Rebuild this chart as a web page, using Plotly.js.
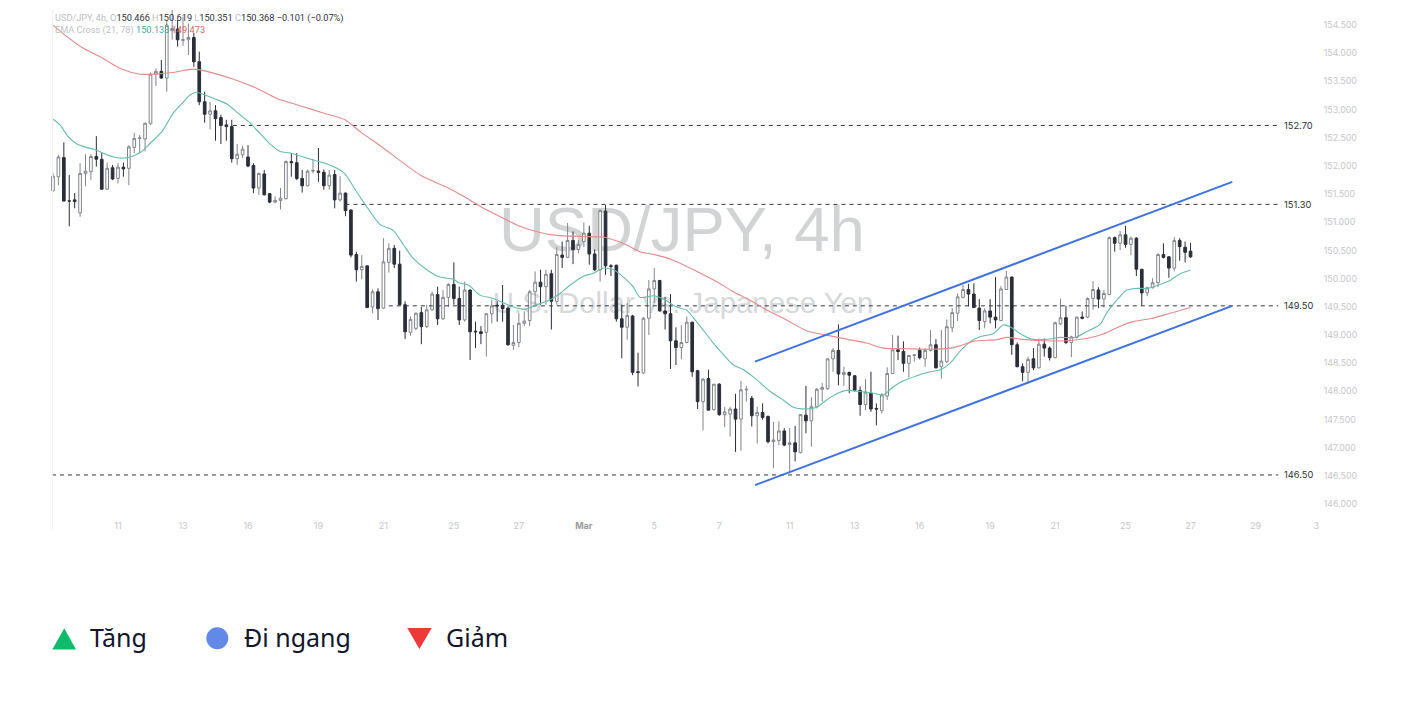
<!DOCTYPE html>
<html>
<head>
<meta charset="utf-8">
<title>USD/JPY 4h</title>
<script src="https://cdn.plot.ly/plotly-3.0.1.min.js"></script>
<style>
  html, body { margin: 0; padding: 0; background: #fff; }
  #chart { width: 1406px; height: 722px; }
</style>
</head>
<body>
<div id="chart"></div>
<script>
// USD/JPY 4h bars
const opens = [
  151.54,151.79,152.13,151.36,151.38,151.15,151.85,151.88,152.15,152.10,
  151.57,151.95,151.76,151.96,151.94,152.31,152.47,152.46,152.73,153.61,
  153.66,153.54,154.38,154.41,154.21,154.22,154.26,153.83,153.12,152.90,
  152.96,152.84,152.71,152.68,152.11,152.18,152.14,151.99,151.59,151.84,
  151.49,151.34,151.37,151.40,152.06,152.04,151.76,151.63,151.89,151.89,
  151.87,151.63,151.83,151.38,151.50,151.20,150.41,150.14,150.21,149.48,
  149.75,149.46,150.27,150.52,150.24,149.52,149.03,149.10,149.38,149.13,
  149.43,149.70,149.27,149.65,149.88,149.63,149.25,149.78,149.05,149.04,
  149.03,149.36,149.51,149.51,149.46,148.80,148.85,149.19,149.24,149.75,
  149.92,149.84,150.07,149.58,150.40,150.36,150.66,150.50,150.64,150.79,
  150.42,150.14,151.18,150.21,150.22,149.27,149.12,149.32,148.33,148.31,
  149.28,149.80,149.95,149.41,149.36,148.88,148.76,148.85,149.21,148.35,
  147.80,148.21,147.66,148.11,147.57,147.58,147.67,147.49,148.01,147.86,
  147.55,147.61,147.54,147.09,147.11,147.28,147.04,147.07,146.90,147.56,
  147.46,147.71,148.02,148.03,148.56,148.71,148.28,148.32,148.26,148.00,
  147.75,147.95,147.68,147.64,147.90,148.30,148.72,148.69,148.48,148.62,
  148.71,148.56,148.71,148.81,148.42,148.51,149.11,149.37,149.65,149.79,
  149.71,149.46,149.22,149.41,149.30,149.24,149.79,150.01,148.81,148.42,
  148.32,148.56,148.40,148.82,148.75,148.58,149.18,149.29,148.85,148.94,
  149.30,149.30,149.63,149.78,149.62,149.70,150.71,150.61,150.76,150.59,
  150.70,150.15,149.73,149.82,149.91,150.41,150.37,150.17,150.66,150.54,150.47
];
const highs = [
  151.86,152.18,152.40,151.82,151.50,152.03,152.19,152.19,152.51,152.21,
  152.04,152.00,152.03,152.04,152.35,152.57,152.53,152.75,153.64,153.71,
  153.86,154.57,154.75,154.57,154.63,154.51,154.34,154.01,153.30,153.12,
  153.06,152.89,152.80,152.80,152.37,152.34,152.35,152.03,151.86,151.91,
  151.50,151.44,151.59,152.08,152.21,152.21,151.91,151.92,152.10,152.30,
  151.92,151.91,151.91,151.80,151.51,151.21,150.46,150.40,150.21,149.79,
  149.81,150.70,150.61,150.58,150.48,149.58,149.31,149.38,149.48,149.52,
  149.75,149.84,149.78,149.90,150.27,149.84,149.93,149.79,149.22,149.14,
  149.37,149.61,149.58,149.87,149.49,149.16,149.37,149.40,149.78,150.11,
  150.14,150.14,150.14,150.54,150.64,150.97,150.82,150.67,150.98,150.92,
  150.50,151.21,151.29,150.24,150.23,149.52,149.55,149.34,148.67,149.30,
  149.96,150.17,149.96,149.66,149.71,149.12,149.16,149.31,149.22,148.36,
  148.22,148.37,148.11,148.13,147.71,147.71,147.94,148.17,148.08,147.90,
  147.71,147.77,147.55,147.44,147.45,147.33,147.33,147.37,147.58,148.08,
  147.88,148.04,148.13,148.57,148.75,149.17,148.42,148.33,148.27,148.07,
  148.20,148.33,147.77,147.95,148.41,148.98,148.97,148.87,148.63,148.63,
  148.76,148.75,149.07,148.91,149.07,149.26,149.46,149.72,149.87,149.89,
  149.90,149.62,149.46,149.62,150.01,149.85,150.12,150.02,148.85,148.48,
  148.60,148.75,148.92,148.92,148.78,149.22,149.63,149.50,148.97,149.31,
  149.40,149.65,149.94,149.83,149.78,150.73,150.73,150.83,150.92,150.73,
  150.72,150.15,149.84,149.99,150.43,150.61,150.38,150.72,150.70,150.64,150.62
];
const lows = [
  151.53,151.64,151.35,150.91,151.23,151.08,151.62,151.73,151.97,151.56,
  151.56,151.73,151.67,151.79,151.64,152.21,152.22,152.24,152.71,153.40,
  153.53,153.30,154.22,154.10,154.11,153.95,153.74,153.06,152.75,152.63,
  152.43,152.37,152.43,152.04,152.00,152.12,151.96,151.50,151.47,151.46,
  151.32,151.32,151.21,151.39,151.79,151.73,151.51,151.62,151.85,151.70,
  151.56,151.56,151.23,151.35,151.09,150.36,149.93,149.97,149.46,149.37,
  149.25,149.45,150.09,150.17,149.51,148.91,148.97,149.07,148.82,149.11,
  149.41,149.16,149.25,149.48,149.52,149.16,149.22,148.54,148.75,148.82,
  148.60,149.19,149.22,149.22,148.79,148.72,148.77,149.14,149.14,149.49,
  149.52,149.52,149.08,149.52,150.17,150.35,150.24,150.43,150.54,150.23,
  150.12,149.93,150.05,150.03,149.22,148.57,148.90,148.27,148.07,148.29,
  148.98,149.55,149.40,149.08,148.38,148.45,148.55,148.84,148.24,147.67,
  147.29,147.65,147.64,147.55,147.35,147.18,146.91,146.93,147.80,147.36,
  147.06,147.48,147.06,146.62,147.03,147.01,146.53,146.74,146.88,147.24,
  147.00,147.68,147.80,148.01,148.33,148.09,148.08,147.95,147.98,147.55,
  147.65,147.62,147.38,147.59,147.83,148.29,148.54,148.33,148.23,148.51,
  148.55,148.42,148.69,148.39,148.21,148.49,149.03,149.23,149.63,149.49,
  149.46,149.07,149.10,149.19,149.10,149.23,149.78,148.63,148.41,148.16,
  148.14,148.36,148.39,148.60,148.53,148.57,149.16,148.82,148.59,148.92,
  149.26,149.28,149.43,149.46,149.47,149.69,150.46,150.49,150.53,150.40,
  150.03,149.51,149.67,149.81,149.83,150.34,150.00,150.11,150.30,150.27,150.35
];
const closes = [
  151.80,152.14,151.36,151.36,151.35,151.85,151.89,152.15,152.10,151.57,
  151.94,151.75,151.96,151.93,152.32,152.47,152.48,152.74,153.61,153.66,
  153.54,154.48,154.42,154.22,154.22,154.26,153.83,153.12,152.90,152.96,
  152.82,152.70,152.68,152.11,152.19,152.28,151.98,151.59,151.85,151.47,
  151.34,151.37,151.41,152.06,152.04,151.76,151.63,151.89,151.90,151.87,
  151.63,151.82,151.38,151.50,151.19,150.40,150.14,150.20,149.47,149.75,
  149.45,150.28,150.52,150.24,149.52,149.04,149.26,149.37,149.13,149.43,
  149.71,149.27,149.65,149.88,149.63,149.25,149.78,149.04,149.04,149.01,
  149.36,149.50,149.50,149.45,148.81,148.85,149.19,149.23,149.75,149.92,
  149.84,150.06,149.58,150.41,150.36,150.66,150.50,150.59,150.79,150.42,
  150.14,151.19,150.21,150.20,149.27,149.12,149.33,148.32,148.32,149.28,
  149.80,149.95,149.41,149.36,148.88,148.76,148.85,149.21,148.33,147.80,
  148.20,147.65,148.11,147.57,147.62,147.67,147.49,148.01,148.02,147.55,
  147.61,147.52,147.09,147.12,147.28,147.03,147.07,146.91,147.57,147.46,
  147.71,148.02,148.05,148.56,148.71,148.29,148.32,148.27,148.00,147.75,
  147.97,147.67,147.67,147.92,148.30,148.72,148.69,148.48,148.62,148.63,
  148.58,148.71,148.81,148.40,148.52,149.13,149.38,149.66,149.79,149.71,
  149.47,149.24,149.41,149.30,149.25,149.80,150.01,148.81,148.42,148.32,
  148.55,148.40,148.82,148.75,148.58,149.20,149.29,148.85,148.95,149.30,
  149.28,149.63,149.79,149.62,149.72,150.71,150.61,150.76,150.59,150.70,
  150.15,149.73,149.82,149.91,150.41,150.36,150.17,150.66,150.55,150.45,150.37
];
const barIndex = opens.map((_, i) => i);

// EMA 21, sampled along the line (bar position, price)
const emaFastBars = [0,1.3,2.8,4.4,6.2,7.8,9.9,12.4,14.2,16.1,17.9,20.1,22.2,24.1,25.3,26.5,27.8,30.2,32.1,34.5,36.4,38.2,40.1,41.9,43.8,46.2,48.7,50.5,52.4,53.9,55.8,57.9,60.4,62.8,64.7,66.5,69,71.4,73.9,75.1,76.7,78.8,81.3,83.2,85,87.1,89.3,91.8,93.6,95.5,98,99.8,101.6,103.5,105.3,107.1,108.4,110.9,112.7,115.1,117,118.8,121.9,123.8,125.6,127.4,129.9,132.4,134.8,136.7,139.1,141,142.8,144.7,146.5,148.9,151.5,153.3,155.1,157,159.5,161.9,163.7,165.6,167.5,169.3,171.1,173.6,175.4,176.7,178.5,180.7,182.8,184.7,185.9,188.7,190.8,193.3,194.5,196.4,198.2,200.1,202,204.4,206.2,208.1,210];
const emaFastVals = [152.81,152.71,152.50,152.37,152.31,152.27,152.18,152.12,152.14,152.22,152.38,152.59,152.92,153.12,153.24,153.29,153.25,153.16,153.08,152.89,152.74,152.56,152.37,152.24,152.21,152.14,152.07,152.02,151.94,151.84,151.56,151.26,150.94,150.84,150.58,150.34,150.14,150.01,149.97,149.90,149.87,149.69,149.63,149.55,149.48,149.44,149.52,149.61,149.72,149.87,150.03,150.08,150.17,150.14,150.01,149.84,149.65,149.68,149.62,149.48,149.42,149.22,148.84,148.63,148.45,148.37,148.19,147.98,147.83,147.70,147.67,147.70,147.83,147.94,148.00,147.98,147.95,147.92,148.06,148.17,148.26,148.33,148.36,148.48,148.70,148.86,148.95,149.01,149.16,149.13,149.01,148.91,148.90,148.92,148.94,148.94,149.04,149.17,149.37,149.60,149.78,149.81,149.81,149.88,149.95,150.07,150.13];

// EMA 78
const emaSlowBars = [0,2.5,5.6,8.7,12.4,16.1,18.5,22.2,25.9,28.4,33.3,37.6,41.3,45.6,49.9,53.9,56.7,60.4,67.8,73.6,76.4,79.5,83.2,86.2,89.9,93,98,101.6,104.1,105.9,108.4,111.4,114.5,117.6,121.3,122.5,125.6,128.7,131.7,135.4,139.1,142.8,146.5,150.2,153.3,157.6,161.9,165.6,167.4,169.9,174.2,176.1,178.5,182.8,187.2,190.8,193.9,197,199.4,202.5,205.6,210];
const emaSlowVals = [154.48,154.28,154.07,153.92,153.71,153.61,153.61,153.64,153.70,153.66,153.52,153.36,153.18,153.05,152.92,152.80,152.59,152.34,151.82,151.56,151.41,151.23,151.05,150.91,150.80,150.75,150.73,150.72,150.65,150.58,150.46,150.40,150.31,150.17,149.99,149.93,149.75,149.60,149.43,149.25,149.06,148.98,148.91,148.84,148.75,148.74,148.73,148.75,148.79,148.87,148.90,148.94,148.91,148.88,148.88,148.92,149.00,149.14,149.22,149.27,149.35,149.47];

// Rising channel drawn on the chart
const channelBars = [129.6, 217.7];
const channelUpper = [148.51, 151.70];
const channelLower = [146.32, 149.50];

// Horizontal levels
const levelPrices = [152.70, 151.30, 149.50, 146.50];
const levelStarts = [33.2, 54, 62, -0.18];
const levelEnd = 226.2;
const levelLabelBar = 226.9;

// Axis labels
const xTickBars = [12,24,36,49,61,74,86,98,111,123,136,148,160,173,185,198,210,222,233.2];
const xTickText = ['11','13','16','19','21','25','27','<b style="color:#9a9a9a">Mar</b>','5','7','11','13','16','19','21','25','27','29','3'];
const yTicks = [146,146.5,147,147.5,148,148.5,149,149.5,150,150.5,151,151.5,152,152.5,153,153.5,154,154.5];

// Page pixels to paper fractions
const W = 1406, H = 722;
const fx = px => px / W;
const fy = py => 1 - py / H;

const xRange = [-0.554, 233.9];
const yRange = [145.825, 154.837];
const xDomain = [fx(50), fx(1320)];
const yDomain = [fy(513), fy(5)];

const traces = [
  // watermark sits on the base axes so the candles draw over it
  { x: [116.1], y: [150.75], mode: 'text', type: 'scatter', text: ['USD/JPY, 4h'], textposition: 'middle center',
    textfont: { family: 'Liberation Sans, sans-serif', size: 63.5, color: '#d2d3d5' }, cliponaxis: false, hoverinfo: 'skip', showlegend: false },
  { x: [116.3], y: [149.50], mode: 'text', type: 'scatter', text: ['U.S. Dollar vs. Japanese Yen'], textposition: 'middle center',
    textfont: { family: 'Liberation Sans, sans-serif', size: 29.4, color: '#d7d8da' }, cliponaxis: false, hoverinfo: 'skip', showlegend: false }
];

levelPrices.forEach((p, i) => {
  traces.push({ x: [levelStarts[i], levelEnd], y: [p, p], xaxis: 'x2', yaxis: 'y2', mode: 'lines', type: 'scatter',
    line: { color: '#333640', width: 1, dash: '4px,4px' }, hoverinfo: 'skip', showlegend: false });
});

traces.push({
  type: 'candlestick', x: barIndex, open: opens, high: highs, low: lows, close: closes,
  xaxis: 'x2', yaxis: 'y2', width: 0.66, whiskerwidth: 0, showlegend: false, hoverinfo: 'skip',
  increasing: { line: { color: '#83858c', width: 1 }, fillcolor: '#ffffff' },
  decreasing: { line: { color: '#2a2e39', width: 1 }, fillcolor: '#2a2e39' }
});

traces.push({ x: emaFastBars, y: emaFastVals, xaxis: 'x2', yaxis: 'y2', mode: 'lines', type: 'scatter',
  line: { color: '#66bcab', width: 1.1, shape: 'spline', smoothing: 0.7 }, hoverinfo: 'skip', showlegend: false });
traces.push({ x: emaSlowBars, y: emaSlowVals, xaxis: 'x2', yaxis: 'y2', mode: 'lines', type: 'scatter',
  line: { color: '#e58b8b', width: 1.1, shape: 'spline', smoothing: 0.7 }, hoverinfo: 'skip', showlegend: false });
traces.push({ x: channelBars, y: channelUpper, xaxis: 'x2', yaxis: 'y2', mode: 'lines', type: 'scatter',
  line: { color: '#3f72e0', width: 2 }, hoverinfo: 'skip', showlegend: false });
traces.push({ x: channelBars, y: channelLower, xaxis: 'x2', yaxis: 'y2', mode: 'lines', type: 'scatter',
  line: { color: '#3f72e0', width: 2 }, hoverinfo: 'skip', showlegend: false });

const headFont = { family: 'Roboto, sans-serif', size: 9.2, color: '#2f323a' };
const dim = s => '<span style="color:#bdbfc4">' + s + '</span>';

const annotations = [
  { xref: 'paper', yref: 'paper', x: fx(53), y: fy(18), xanchor: 'left', yanchor: 'middle', showarrow: false, font: headFont,
    text: dim('USD/JPY, 4h,') + ' ' + dim('O') + '150.466 ' + dim('H') + '150.619 ' + dim('L') + '150.351 ' + dim('C') + '150.368 −0.101 (−0.07%)' },
  { xref: 'paper', yref: 'paper', x: fx(53), y: fy(30), xanchor: 'left', yanchor: 'middle', showarrow: false, font: headFont,
    text: dim('EMA Cross (21, 78)') + ' <span style="color:#4aa99a">150.133</span> <span style="color:#e06666">149.473</span>' }
];

levelPrices.forEach(p => {
  annotations.push({ xref: 'x2', yref: 'y2', x: levelLabelBar, y: p, xanchor: 'left', yanchor: 'middle', showarrow: false,
    text: p.toFixed(2), font: { family: 'Inter, Liberation Sans, sans-serif', size: 9.3, color: '#2f323a' } });
});

// Bottom key
const keyFont = { family: 'Noto Sans, sans-serif', size: 25, color: '#12152b' };
[['Tăng', 90], ['Đi ngang', 243.5], ['Giảm', 446]].forEach(k => {
  annotations.push({ xref: 'paper', yref: 'paper', x: fx(k[1]), y: fy(636.5), xanchor: 'left', yanchor: 'middle', showarrow: false,
    text: k[0], font: keyFont, xshift: -2 });
});

const triangle = (x0, x1, xTip, yBase, yTip) =>
  `M ${fx(x0)} ${fy(yBase)} L ${fx(x1)} ${fy(yBase)} L ${fx(xTip)} ${fy(yTip)} Z`;

const shapes = [
  { type: 'line', xref: 'paper', yref: 'paper', x0: fx(52.5), x1: fx(52.5), y0: fy(10), y1: fy(530), line: { color: '#f1f1f2', width: 1 } },
  { type: 'path', xref: 'paper', yref: 'paper', path: triangle(52.3, 76, 64.2, 649.5, 628.3), fillcolor: '#10bb6c', line: { width: 0 } },
  { type: 'circle', xref: 'paper', yref: 'paper', x0: fx(206.3), x1: fx(228.3), y0: fy(627.3), y1: fy(649.3), fillcolor: '#6389e8', line: { width: 0 } },
  { type: 'path', xref: 'paper', yref: 'paper', path: triangle(407.3, 431.7, 419.4, 628, 649), fillcolor: '#ef3838', line: { width: 0 } }
];

const layout = {
  width: W, height: H,
  margin: { l: 0, r: 0, t: 0, b: 0, pad: 0 },
  paper_bgcolor: '#ffffff', plot_bgcolor: '#ffffff',
  showlegend: false, hovermode: false, dragmode: false,
  xaxis: { domain: xDomain, range: xRange, showgrid: false, zeroline: false, showticklabels: false, ticks: '', showline: false },
  yaxis: { domain: yDomain, range: yRange, showgrid: false, zeroline: false, showticklabels: false, ticks: '', showline: false },
  xaxis2: {
    overlaying: 'x', anchor: 'y2', domain: xDomain, range: xRange, showgrid: false, zeroline: false, showline: false,
    tickmode: 'array', tickvals: xTickBars, ticktext: xTickText, ticks: 'outside', ticklen: 4, tickcolor: '#ffffff',
    tickfont: { family: 'Inter, Liberation Sans, sans-serif', size: 9, color: '#c6c7cb' }, tickangle: 0,
    rangeslider: { visible: false }
  },
  yaxis2: {
    overlaying: 'y', anchor: 'x2', side: 'right', domain: yDomain, range: yRange, showgrid: false, zeroline: false, showline: false,
    tickmode: 'array', tickvals: yTicks, ticktext: yTicks.map(v => v.toFixed(3)), ticks: 'outside', ticklen: 1, tickcolor: '#ffffff',
    tickfont: { family: 'Inter, Liberation Sans, sans-serif', size: 8.8, color: '#c6c7cb' }, ticklabelshift: 1
  },
  annotations: annotations,
  shapes: shapes
};

Plotly.newPlot('chart', traces, layout, { displayModeBar: false, staticPlot: true });
</script>
</body>
</html>
